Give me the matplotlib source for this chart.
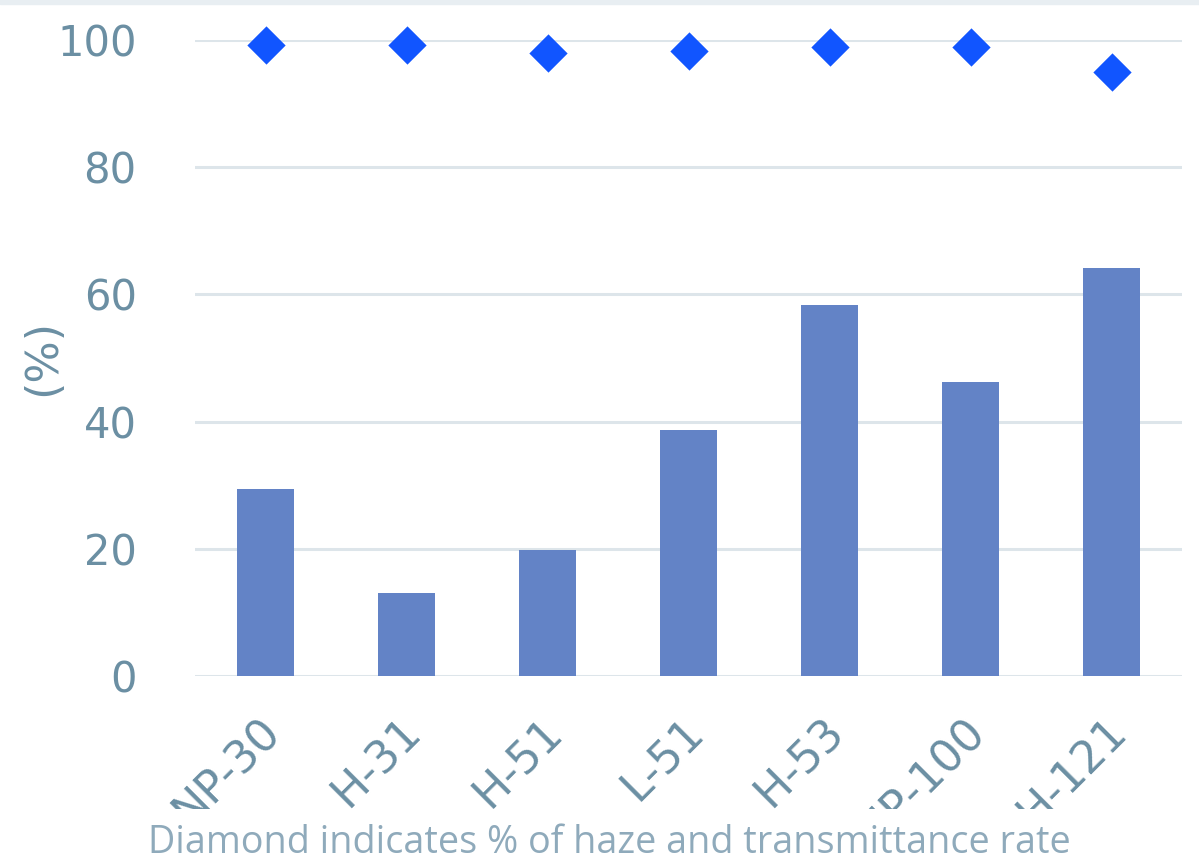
import matplotlib.pyplot as plt
import matplotlib.transforms as mtrans
from matplotlib.transforms import Bbox

# grades and measured values
grades = ["NP-30", "H-31", "H-51", "L-51", "H-53", "NP-100", "H-121"]
haze = [29.4, 13.1, 19.8, 38.7, 58.3, 46.2, 64.2]
transmittance = [99.2, 99.2, 98.0, 98.3, 98.9, 98.9, 95.0]
yticks = [0, 20, 40, 60, 80, 100]

BAR = "#6383c6"
DIAMOND = "#1155ff"
GRID = "#dde5ea"
TICK = "#6b8fa3"
NOTE = "#8faabb"

fig = plt.figure(figsize=(11.99, 8.65), dpi=100)
ax = fig.add_axes([195 / 1199, 1 - 676 / 865, 987 / 1199, 636 / 865])

x = range(len(grades))
ax.bar(x, haze, width=0.4, color=BAR, zorder=2)
ax.scatter(x, transmittance, marker="D", s=380, color=DIAMOND, zorder=3,
           linewidths=0, clip_on=False)

ax.set_xlim(-0.5, len(grades) - 0.5)
ax.set_ylim(0, 100)
ax.set_yticks(yticks)
ax.yaxis.grid(True, color=GRID, linewidth=2.2, zorder=1)
ax.set_axisbelow(True)
for s in ax.spines.values():
    s.set_visible(False)
ax.tick_params(axis="y", length=0, pad=42, labelsize=30, labelcolor=TICK)
ax.tick_params(axis="x", length=0, pad=24)

ax.set_xticks(list(x))
ax.set_xticklabels(grades, rotation=45, ha="right", va="top",
                   rotation_mode="anchor", fontsize=32, color=TICK)
# labels are cut off along the bottom edge
clip = Bbox.from_extents(0, 865 - 809, 1199, 865)
shift = mtrans.ScaledTranslation(-0.07, 0, fig.dpi_scale_trans)
for lab in ax.get_xticklabels():
    lab.set_transform(lab.get_transform() + shift)
    lab.set_clip_on(True)
    lab.set_clip_box(clip)

fig.text(43 / 1199, 1 - 357 / 865, "(%)", rotation=90, fontsize=32,
         color=TICK, ha="center", va="center")
fig.text(609 / 1199, 1 - 843 / 865,
         "Diamond indicates % of haze and transmittance rate",
         fontsize=27.2, color=NOTE, ha="center", va="center", family="Open Sans")

# thin band along the top edge
fig.patches.append(plt.Rectangle((0, 1 - 4 / 865), 1, 4 / 865,
                                 transform=fig.transFigure, color="#e8eef2"))

fig.savefig("out.png", dpi=100)
